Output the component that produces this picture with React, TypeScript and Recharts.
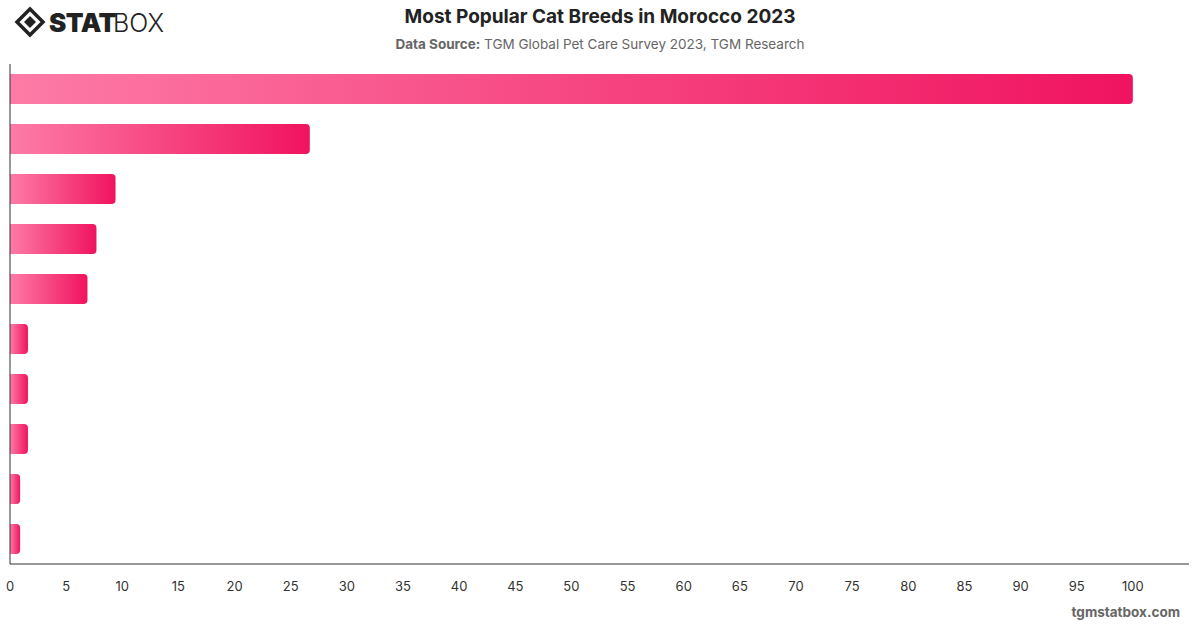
import { BarChart, Bar, XAxis, YAxis } from 'recharts';

// breed names are not printed on the chart, so ranks stand in for them
const breeds = ['1', '2', '3', '4', '5', '6', '7', '8', '9', '10'];
const shares = [100, 26.7, 9.4, 7.7, 6.9, 1.6, 1.6, 1.6, 0.9, 0.9];
const xTicks = [0, 5, 10, 15, 20, 25, 30, 35, 40, 45, 50, 55, 60, 65, 70, 75, 80, 85, 90, 95, 100];

const points = breeds.map((name, i) => ({ name, value: shares[i] }));

const font = 'Inter, "Noto Sans", sans-serif';

function Logo() {
    return (
        <svg width={180} height={40} style={{ position: 'absolute', left: 0, top: 2 }}>
            <g transform="translate(30,20)">
                <polygon points="0,-13 13,0 0,13 -13,0" fill="none" stroke="#222" strokeWidth={3.5} />
                <polygon points="0,-6 6,0 0,6 -6,0" fill="#222" />
            </g>
            <text x={49} y={30} fontFamily={font} fontSize={26} fontWeight={900} fill="#222" letterSpacing={-0.5}>STAT</text>
            <text x={113} y={30} fontFamily={font} fontSize={25} fontWeight={300} fill="#222">BOX</text>
        </svg>
    );
}

export default function App() {
    return (
        <div style={{ position: 'relative', width: 1200, height: 628, background: '#fff', fontFamily: font }}>
            <style>{`body{margin:0}`}</style>
            <Logo />
            <div style={{ position: 'absolute', top: 5, left: 0, width: 1200, textAlign: 'center', fontSize: 19, fontWeight: 700, color: '#222' }}>
                Most Popular Cat Breeds in Morocco 2023
            </div>
            <div style={{ position: 'absolute', top: 36, left: 0, width: 1200, textAlign: 'center', fontSize: 13.5, color: '#666' }}>
                <b>Data Source:</b> TGM Global Pet Care Survey 2023, TGM Research
            </div>
            <div style={{ position: 'absolute', top: 604, right: 20, fontSize: 13.5, fontWeight: 700, color: '#666' }}>
                tgmstatbox.com
            </div>
            <BarChart
                width={1200}
                height={628}
                data={points}
                layout="vertical"
                barSize={30}
                margin={{ top: 64, right: 11, left: 9, bottom: 34 }}
            >
                <defs>
                    <linearGradient id="barFill" x1="0" y1="0" x2="1" y2="0">
                        <stop offset="0%" stopColor="#fd7ba6" />
                        <stop offset="100%" stopColor="#f0135f" />
                    </linearGradient>
                </defs>
                <XAxis
                    type="number"
                    domain={[0, 105]}
                    ticks={xTicks}
                    tickLine={false}
                    axisLine={{ stroke: '#333' }}
                    tickMargin={12}
                    tick={{ fill: '#333', fontSize: 13, fontFamily: font }}
                    height={30}
                />
                <YAxis
                    type="category"
                    dataKey="name"
                    width={1}
                    tick={false}
                    tickLine={false}
                    axisLine={{ stroke: '#333' }}
                />
                <Bar dataKey="value" fill="url(#barFill)" radius={[0, 4, 4, 0]} isAnimationActive={false} />
            </BarChart>
        </div>
    );
}
